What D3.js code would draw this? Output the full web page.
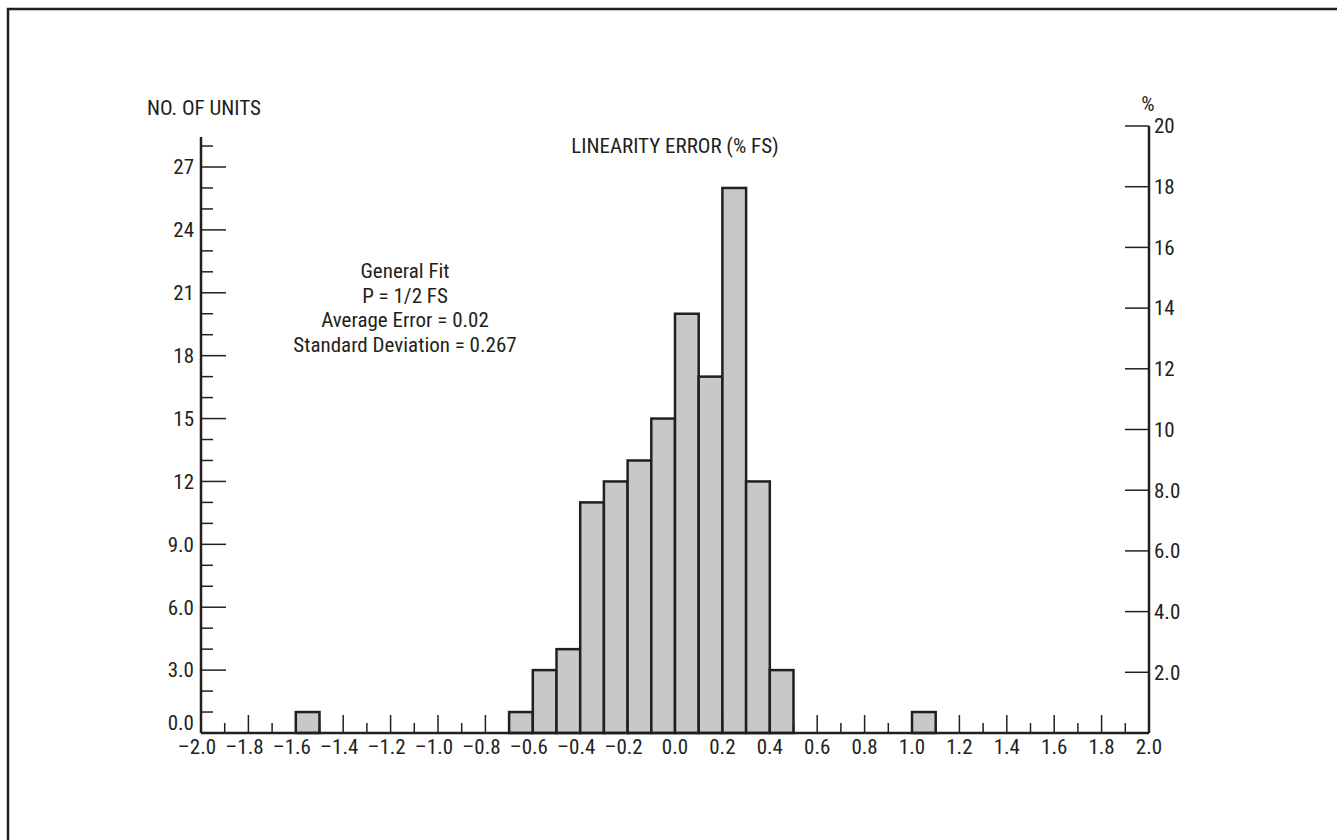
<!DOCTYPE html>
<html>
<head>
<meta charset="utf-8">
<script src="https://cdn.jsdelivr.net/npm/d3@7"></script>
<style>
  body { margin: 0; background: #fff; }
  svg text { font-family: "Liberation Sans Narrow", "Roboto Condensed", "Liberation Sans", sans-serif; fill: #231f20; }
</style>
</head>
<body>
<svg id="chart" width="1337" height="840"></svg>
<script>
// histogram bins (left edge of each 0.1 wide bin) and number of units
const binStarts = [-1.6, -0.7, -0.6, -0.5, -0.4, -0.3, -0.2, -0.1, 0.0, 0.1, 0.2, 0.3, 0.4, 1.0];
const unitCounts = [1, 1, 3, 4, 11, 12, 13, 15, 20, 17, 26, 12, 3, 1];

const xTickValues = [-2.0, -1.8, -1.6, -1.4, -1.2, -1.0, -0.8, -0.6, -0.4, -0.2, 0.0, 0.2, 0.4, 0.6, 0.8, 1.0, 1.2, 1.4, 1.6, 1.8, 2.0];
const leftTickValues = [0, 3, 6, 9, 12, 15, 18, 21, 24, 27];
const leftTickLabels = ["0.0", "3.0", "6.0", "9.0", "12", "15", "18", "21", "24", "27"];
const rightTickValues = [2, 4, 6, 8, 10, 12, 14, 16, 18, 20];
const rightTickLabels = ["2.0", "4.0", "6.0", "8.0", "10", "12", "14", "16", "18", "20"];
const noteLines = ["General Fit", "P = 1/2 FS", "Average Error = 0.02", "Standard Deviation = 0.267"];

const bins = binStarts.map((s, i) => ({ x0: s, x1: +(s + 0.1).toFixed(1), n: unitCounts[i] }));

const svg = d3.select("#chart");
const ink = "#231f20";
const fs = 21;

// frame (only left and top edges visible)
svg.append("path")
  .attr("d", "M8,840 V9 H1337")
  .attr("fill", "none")
  .attr("stroke", ink)
  .attr("stroke-width", 2.5);

const left = 201, right = 1149, base = 733;

const xScale = d3.scaleLinear().domain([-2, 2]).range([left, right]);
const yScale = d3.scaleLinear().domain([0, 27]).range([base, 167]);
const pScale = d3.scaleLinear().domain([0, 20]).range([base, 126]);

// bars
svg.append("g")
  .selectAll("rect")
  .data(bins)
  .join("rect")
    .attr("x", d => xScale(d.x0))
    .attr("y", d => yScale(d.n))
    .attr("width", d => xScale(d.x1) - xScale(d.x0))
    .attr("height", d => yScale(0) - yScale(d.n))
    .attr("fill", "#c7c8ca")
    .attr("stroke", ink)
    .attr("stroke-width", 2.5);

// x axis: major ticks every 0.2 with labels, minor between
const xAxis = svg.append("g").attr("transform", `translate(0,${base})`);
const xMinor = d3.range(-19, 20, 2).map(v => v / 10);
xAxis.selectAll(".minor")
  .data(xMinor)
  .join("line")
    .attr("class", "minor")
    .attr("x1", d => xScale(d)).attr("x2", d => xScale(d))
    .attr("y1", 0).attr("y2", -10)
    .attr("stroke", ink).attr("stroke-width", 1.5);
xAxis.selectAll(".major")
  .data(xTickValues.slice(1, -1))
  .join("line")
    .attr("class", "major")
    .attr("x1", d => xScale(d)).attr("x2", d => xScale(d))
    .attr("y1", 0).attr("y2", -18)
    .attr("stroke", ink).attr("stroke-width", 1.5);
xAxis.append("line")
  .attr("x1", left).attr("x2", right)
  .attr("stroke", ink).attr("stroke-width", 2.5);
xAxis.selectAll(".xlab")
  .data(xTickValues)
  .join("text")
    .attr("class", "xlab")
    .attr("x", d => xScale(d) + (d < 0 ? -4 : 0))
    .attr("y", 21)
    .attr("text-anchor", "middle")
    .attr("font-size", fs)
    .text(d => d < 0 ? "\u2013" + d3.format(".1f")(-d) : d3.format(".1f")(d));

// left axis (number of units)
const yAxis = svg.append("g").attr("transform", `translate(${left},0)`);
yAxis.append("line")
  .attr("y1", 137).attr("y2", base)
  .attr("stroke", ink).attr("stroke-width", 2.5);
yAxis.selectAll(".ytick")
  .data(d3.range(1, 29))
  .join("line")
    .attr("class", "ytick")
    .attr("x1", 0)
    .attr("x2", d => d % 3 === 0 ? 25 : 12)
    .attr("y1", d => yScale(d)).attr("y2", d => yScale(d))
    .attr("stroke", ink).attr("stroke-width", 1.5);
yAxis.selectAll(".ylab")
  .data(leftTickValues)
  .join("text")
    .attr("class", "ylab")
    .attr("x", -7)
    .attr("y", d => yScale(d) - (d === 0 ? 10 : 0))
    .attr("dy", "0.35em")
    .attr("text-anchor", "end")
    .attr("font-size", fs)
    .text((d, i) => leftTickLabels[i]);

// right axis (percent)
const pAxis = svg.append("g").attr("transform", `translate(${right},0)`);
pAxis.append("line")
  .attr("y1", pScale(20)).attr("y2", base)
  .attr("stroke", ink).attr("stroke-width", 2.5);
pAxis.selectAll(".ptick")
  .data(rightTickValues)
  .join("line")
    .attr("class", "ptick")
    .attr("x1", 0).attr("x2", -24)
    .attr("y1", d => pScale(d)).attr("y2", d => pScale(d))
    .attr("stroke", ink).attr("stroke-width", 1.5);
pAxis.selectAll(".plab")
  .data(rightTickValues)
  .join("text")
    .attr("class", "plab")
    .attr("x", 5)
    .attr("y", d => pScale(d))
    .attr("dy", "0.35em")
    .attr("font-size", fs)
    .text((d, i) => rightTickLabels[i]);

// titles
svg.append("text")
  .attr("x", 147).attr("y", 115)
  .attr("font-size", fs)
  .text("NO. OF UNITS");
svg.append("text")
  .attr("x", 1148).attr("y", 111)
  .attr("text-anchor", "middle")
  .attr("font-size", fs)
  .text("%");
svg.append("text")
  .attr("x", 675).attr("y", 153)
  .attr("text-anchor", "middle")
  .attr("font-size", fs)
  .text("LINEARITY ERROR (% FS)");

svg.append("g")
  .selectAll("text")
  .data(noteLines)
  .join("text")
    .attr("x", 405)
    .attr("y", (d, i) => 278 + i * 24.5)
    .attr("text-anchor", "middle")
    .attr("font-size", fs)
    .text(d => d);
</script>
</body>
</html>
